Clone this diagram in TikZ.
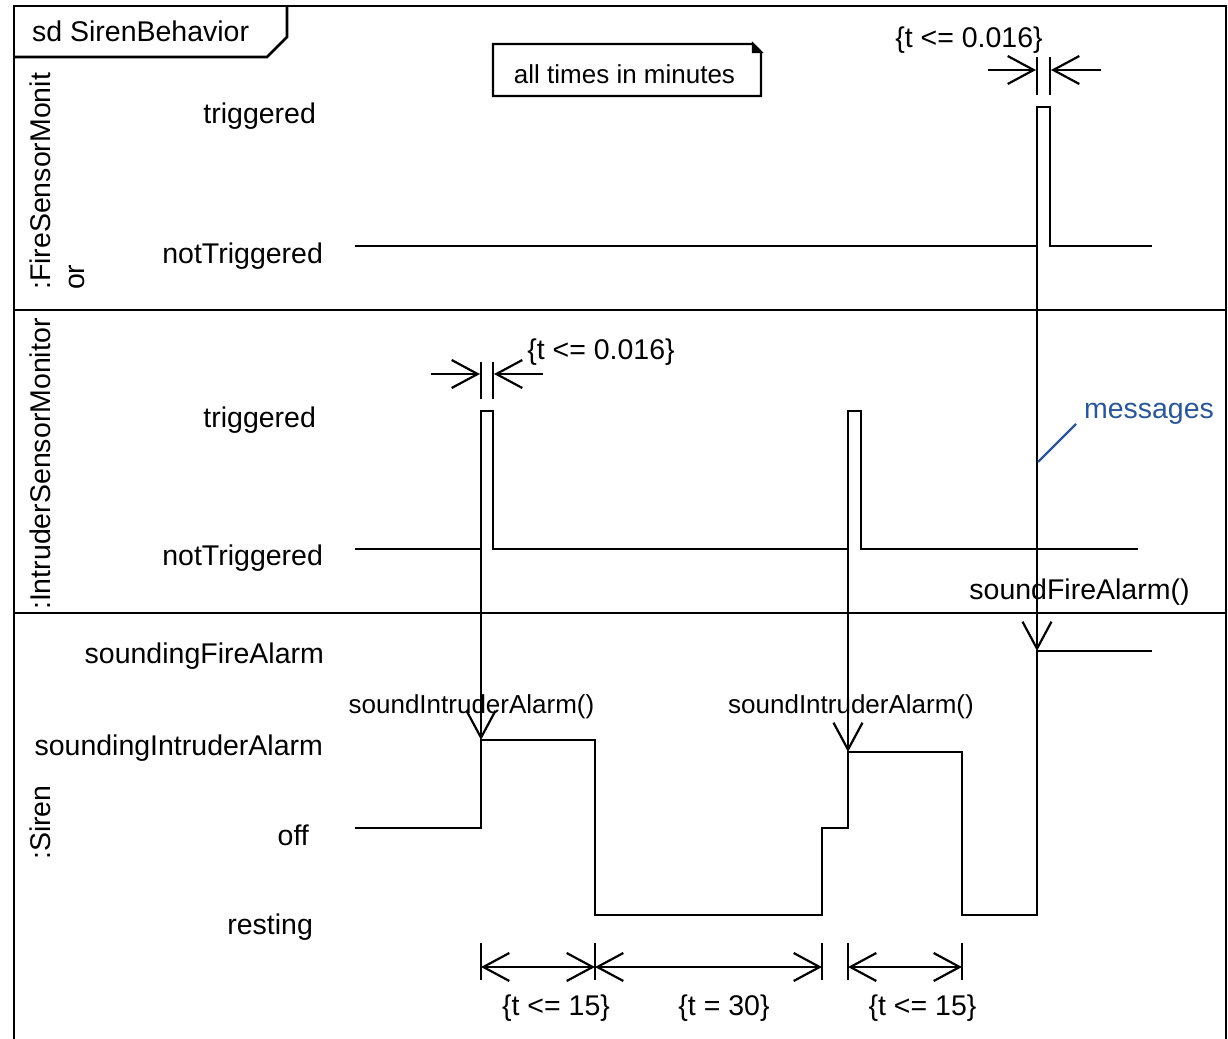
\documentclass[tikz,border=0pt]{standalone}
\usepackage{fontspec}
\setmainfont{Liberation Sans}
\usetikzlibrary{arrows.meta}
\definecolor{notecol}{HTML}{2B5797}

\begin{document}
\begin{tikzpicture}[x=0.5pt,y=-0.5pt,line width=1.1pt,
	lbl/.style={inner sep=0pt,font=\fontsize{14.25}{17}\selectfont},
	small/.style={inner sep=0pt,font=\fontsize{13}{15.6}\selectfont},
	msg/.style={-{Straight Barb[length=13.5pt,width=14.5pt]}},
	lim/.style={-{Straight Barb[length=13pt,width=14pt]}},
	dur/.style={{Straight Barb[length=13pt,width=14pt]}-{Straight Barb[length=13pt,width=14pt]}}]
		\useasboundingbox (0,0) rectangle (1228,1039);
		% frame and lanes
		\draw[line width=1.4pt] (14,1070) -- (14,6) -- (1226,6) -- (1226,1070);
		\draw[line width=1.4pt] (14,57) -- (267,57) -- (287,37) -- (287,6);
		\draw[line width=1.3pt] (14,310) -- (1226,310) (14,613) -- (1226,613);
		\node[lbl, anchor=west] (title) at (31,31) {sd SirenBehavior};
		\node[lbl, rotate=90, anchor=north west, align=left] (fire) at (29,291) {:FireSensorMonit\\or};
		\node[lbl, rotate=90, anchor=north west] (intruder) at (29,611) {:IntruderSensorMonitor};
		\node[lbl, rotate=90, anchor=north west] (siren) at (29,861) {:Siren};
		% note
		\draw (493,44) -- (753,44) -- (761,52) -- (761,96) -- (493,96) -- cycle;
		\filldraw (753,44) -- (761,52) -- (753,52) -- cycle;
		\node[small] (note) at (624.5,74) {all times in minutes};
		% states
		\node[lbl, anchor=east] (ftrig) at (317,116) {triggered};
		\node[lbl, anchor=east] (fnot) at (324,256) {notTriggered};
		\node[lbl, anchor=east] (itrig) at (317,420.5) {triggered};
		\node[lbl, anchor=east] (inot) at (324,558) {notTriggered};
		\node[lbl, anchor=east] (sfire) at (325,656.5) {soundingFireAlarm};
		\node[lbl, anchor=east] (sintr) at (324,748) {soundingIntruderAlarm};
		\node[lbl, anchor=east] (soff) at (310,835) {off};
		\node[lbl, anchor=east] (srest) at (314,927.5) {resting};
		% waveforms
		\draw (355,246) -- (1037,246) -- (1037,107) -- (1050,107) -- (1050,246) -- (1152,246);
		\draw (355,549) -- (481,549) -- (481,411) -- (493,411) -- (493,549) -- (848,549)
			-- (848,411) -- (861,411) -- (861,549) -- (1138,549);
		\draw (355,828) -- (481,828) -- (481,740) -- (595,740) -- (595,915) -- (822,915)
			-- (822,828) -- (848,828) -- (848,752) -- (962,752) -- (962,915) -- (1037,915)
			-- (1037,651) -- (1152,651);
		% messages
		\coordinate (m1a) at (481,549); \coordinate (m1b) at (481,740);
		\coordinate (m2a) at (848,549); \coordinate (m2b) at (848,752);
		\coordinate (m3a) at (1037,246); \coordinate (m3b) at (1037,651);
		\draw[msg] (m1a) -- (m1b);
		\draw[msg] (m2a) -- (m2b);
		\draw[msg] (m3a) -- (m3b);
		\node[small] (msg1) at (471.5,707) {soundIntruderAlarm()};
		\node[small] (msg2) at (851,707) {soundIntruderAlarm()};
		\node[lbl] (msg3) at (1079.5,592) {soundFireAlarm()};
		\node[lbl, text=notecol] (msgnote) at (1149,414) {messages};
		\coordinate (msgtip) at (1038,462);
		\draw[notecol] (1076,424) -- (msgtip);
		% timing constraints
		\draw (1037,57) -- (1037,95) (1050,57) -- (1050,95);
		\draw[lim] (988,70) -- (1036,70);
		\draw[lim] (1101,70) -- (1051,70);
		\node[lbl] (tfire) at (969,40) {\{t <= 0.016\}};
		\draw (481,362) -- (481,399) (493,362) -- (493,399);
		\draw[lim] (431,374) -- (480,374);
		\draw[lim] (543,374) -- (494,374);
		\node[lbl] (tintr) at (601,352) {\{t <= 0.016\}};
		\foreach \x in {481,595,822,848,962}
			\draw (\x,943) -- (\x,980);
		\draw[dur] (481,967) -- (595,967);
		\draw[dur] (595,967) -- (822,967);
		\draw[dur] (848,967) -- (962,967);
		\node[lbl] (d1) at (556,1008) {\{t <= 15\}};
		\node[lbl] (d2) at (724,1008) {\{t = 30\}};
		\node[lbl] (d3) at (922.5,1008) {\{t <= 15\}};
	\end{tikzpicture}
\end{document}
